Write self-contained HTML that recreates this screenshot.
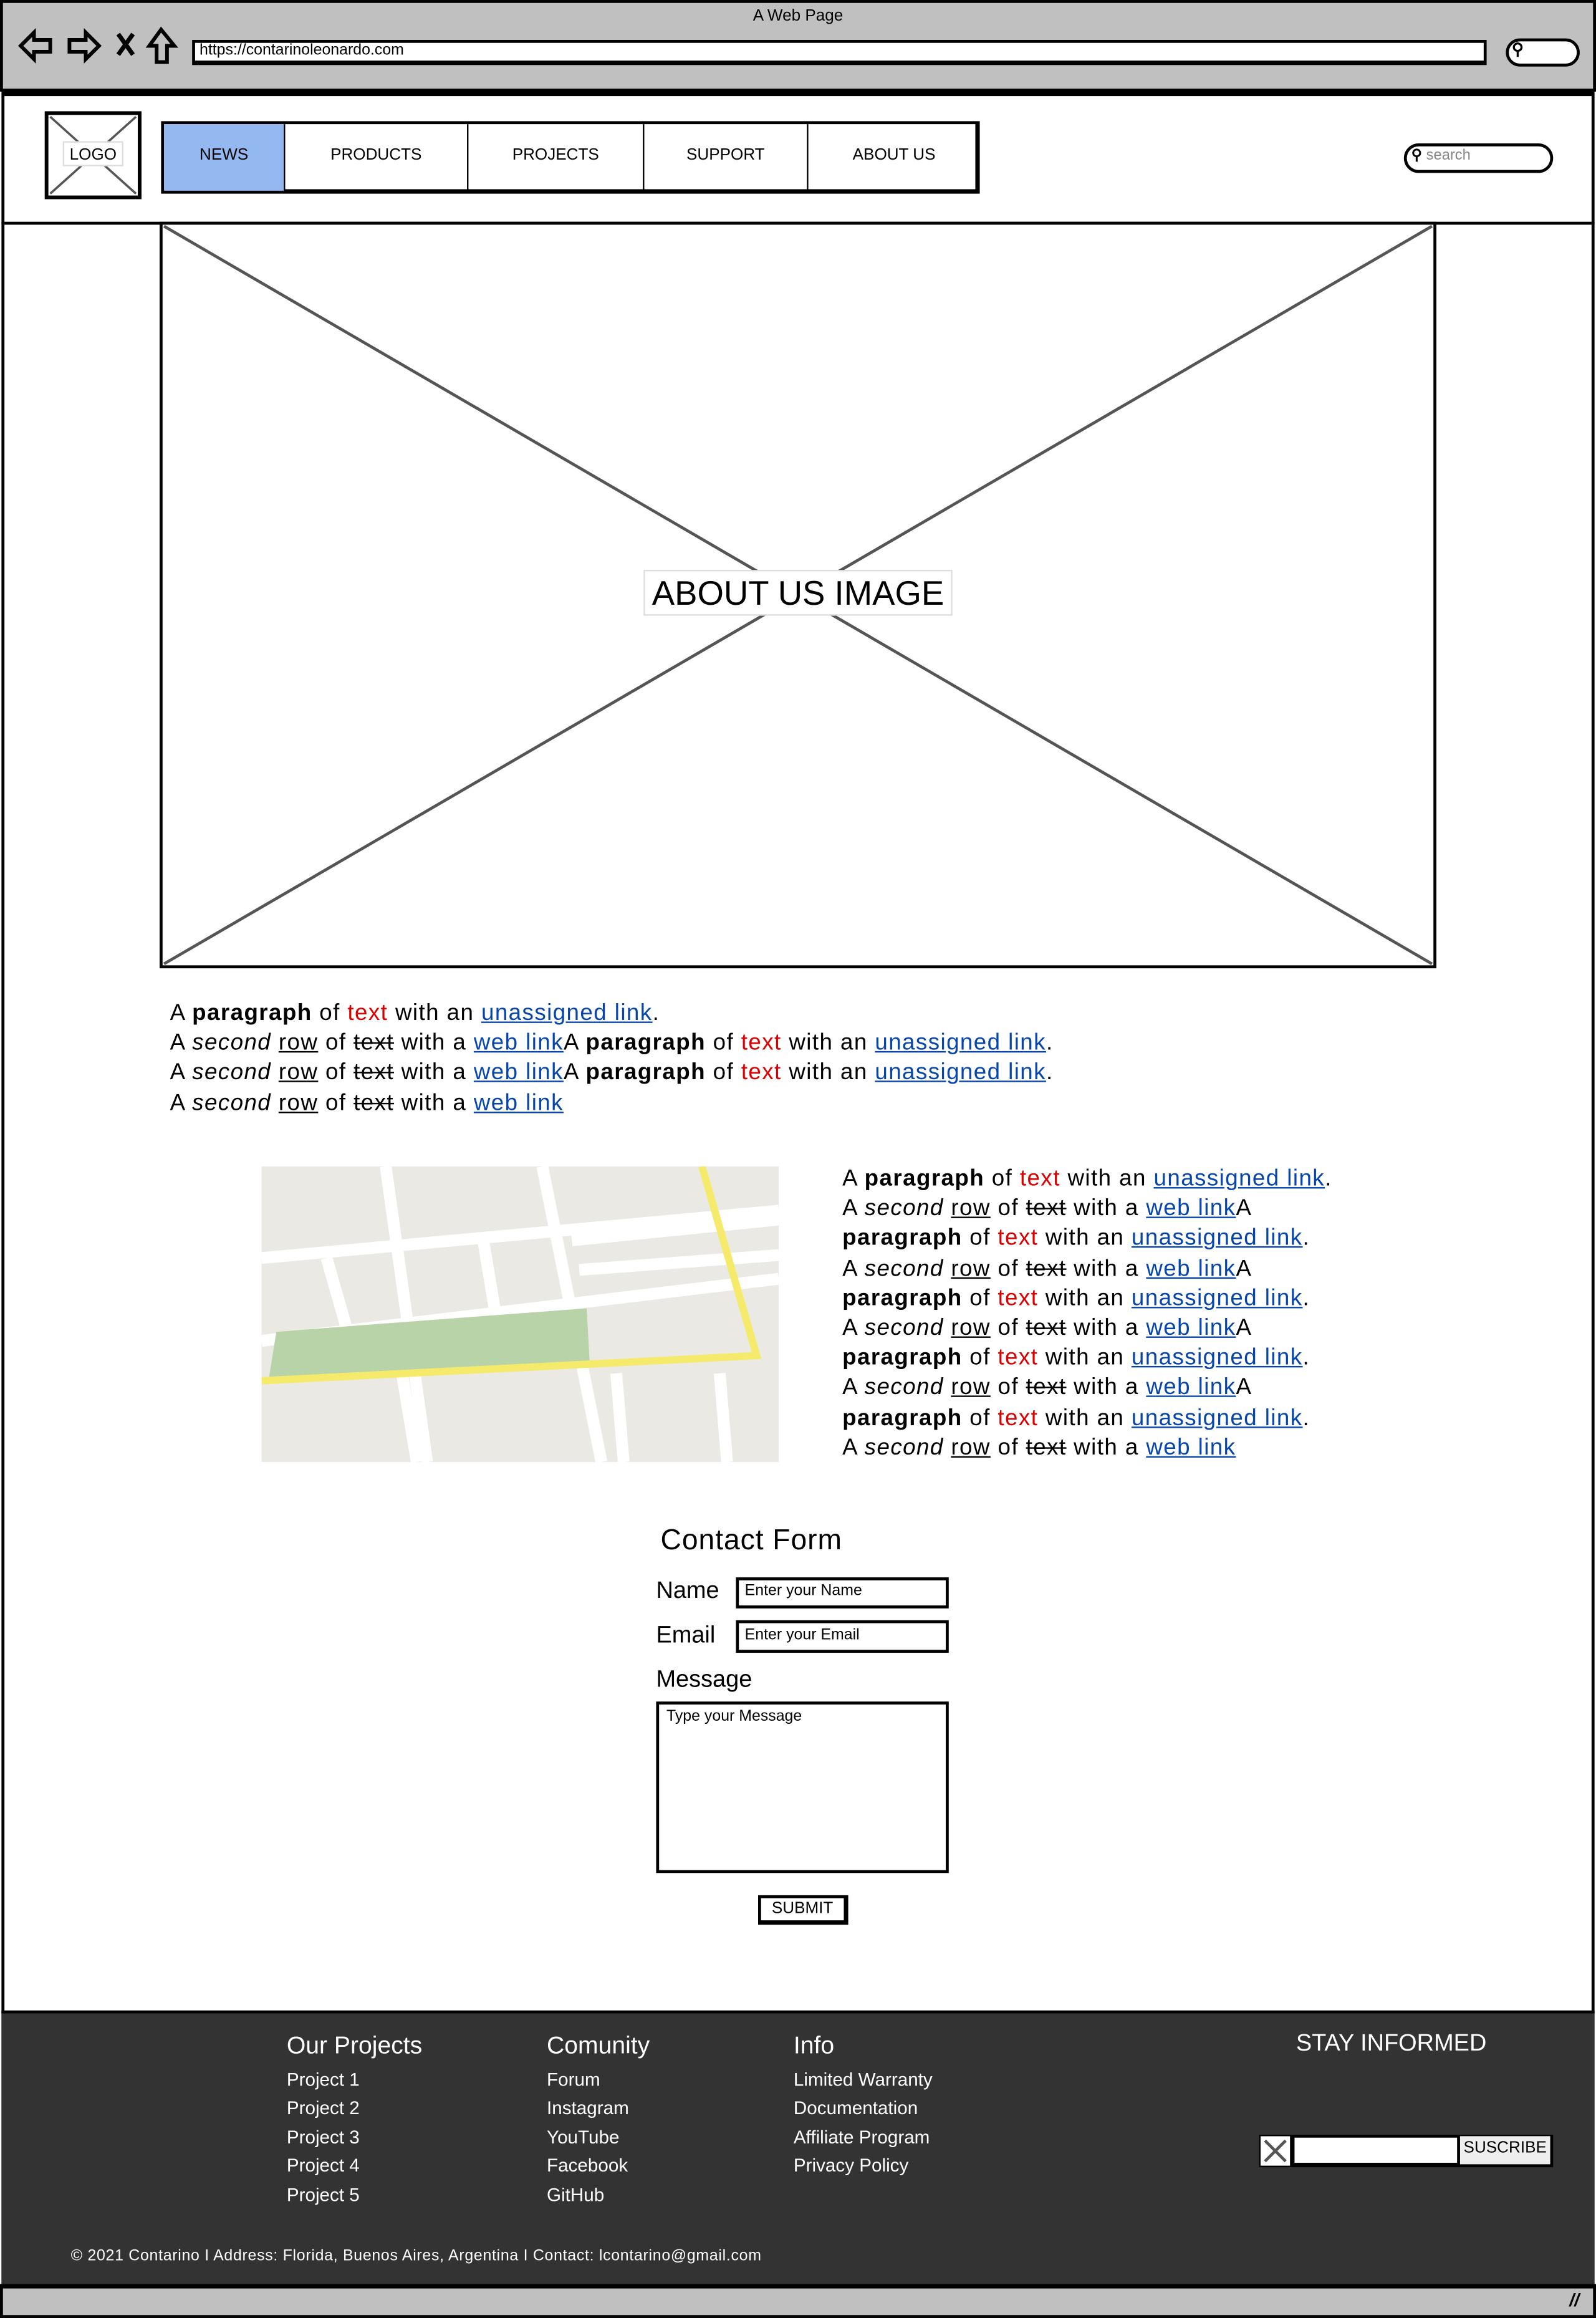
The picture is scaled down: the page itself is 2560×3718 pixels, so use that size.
<!DOCTYPE html>
<html><head><meta charset="utf-8"><style>
html,body{margin:0;padding:0;background:#fff;}
body{width:2560px;height:3718px;overflow:hidden;}
#w{position:absolute;left:0;top:0;width:1080px;height:1568px;transform:scale(2.37037,2.37117);transform-origin:0 0;font-family:"Liberation Sans",sans-serif;color:#000;}
.a{position:absolute;white-space:nowrap;}
.p{font-size:15.5px;line-height:20.2px;letter-spacing:0.6px;}
.r{color:#d00;}
.l{color:#0645ad;text-decoration:underline;}
.u{text-decoration:underline;}
.s{text-decoration:line-through;}
.box{position:absolute;box-sizing:border-box;}
.f{color:#fff;font-size:12.5px;}
</style></head><body><div id="w">
<div class="box" style="left:0;top:0;width:1080px;height:62px;background:#c0c0c0;border:2px solid #000;"></div>
<div class="a" style="left:0;width:1080px;text-align:center;top:5px;font-size:11px;">A Web Page</div>
<svg class="a" style="left:10px;top:18px" width="115" height="28" viewBox="0 0 115 28">
<path d="M4 13 L13 4 L13 9 L24 9 L24 17 L13 17 L13 22 Z" fill="none" stroke="#000" stroke-width="2.5"/>
<path d="M57 13 L48 4 L48 9 L37 9 L37 17 L48 17 L48 22 Z" fill="none" stroke="#000" stroke-width="2.5"/>
<path d="M70 5 L80 19 M80 5 L70 19" stroke="#000" stroke-width="3"/>
<path d="M99 2 L108 13 L103 13 L103 24 L96 24 L96 13 L91 13 Z" fill="none" stroke="#000" stroke-width="2.5"/>
</svg>
<div class="box" style="left:130px;top:27px;width:876px;height:17px;background:#fff;border:2px solid #000;border-bottom-width:3px;"></div>
<div class="a" style="left:135px;top:28px;font-size:10.5px;">https://contarinoleonardo.com</div>
<div class="box" style="left:1019px;top:26px;width:50px;height:19px;background:#fff;border:2.5px solid #000;border-radius:10px;"></div>
<div class="a" style="left:1023px;top:27px;font-size:11px;font-weight:bold;">⚲</div>
<div class="box" style="left:1px;top:62px;width:1078px;height:1484px;border:2px solid #000;border-top-width:3px;"></div>
<div class="box" style="left:1px;top:150px;width:1078px;height:2px;background:#000;"></div>
<svg class="a" style="left:30px;top:75px" width="66" height="60"><rect x="1.5" y="1.5" width="63" height="57" fill="#fff" stroke="#000" stroke-width="2.5"/><path d="M4 4 L62 56 M62 4 L4 56" stroke="#555" stroke-width="1.5"/><rect x="13" y="21" width="40" height="16" fill="#fff" stroke="#ddd"/><text x="33" y="33" text-anchor="middle" font-family="Liberation Sans" font-size="11">LOGO</text></svg>
<div class="box" style="left:109px;top:82px;width:554px;height:49px;border:2px solid #000;border-bottom-width:3px;border-right-width:3px;background:#fff;"></div>
<div class="box" style="left:111px;top:84px;width:81px;height:45px;background:#94b9f0;"></div>
<div class="box" style="left:192px;top:84px;width:1px;height:45px;background:#000;"></div>
<div class="box" style="left:316px;top:84px;width:1px;height:45px;background:#000;"></div>
<div class="box" style="left:435px;top:84px;width:1px;height:45px;background:#000;"></div>
<div class="box" style="left:546px;top:84px;width:1px;height:45px;background:#000;"></div>
<div class="a" style="left:111px;width:81px;text-align:center;top:99px;font-size:11px;">NEWS</div>
<div class="a" style="left:193px;width:123px;text-align:center;top:99px;font-size:11px;">PRODUCTS</div>
<div class="a" style="left:317px;width:118px;text-align:center;top:99px;font-size:11px;">PROJECTS</div>
<div class="a" style="left:436px;width:110px;text-align:center;top:99px;font-size:11px;">SUPPORT</div>
<div class="a" style="left:547px;width:116px;text-align:center;top:99px;font-size:11px;">ABOUT US</div>
<div class="box" style="left:950px;top:97px;width:101px;height:20px;border:2px solid #000;border-radius:10px;"></div>
<div class="a" style="left:955px;top:100px;font-size:10px;"><b>⚲</b> <span style="color:#888">search</span></div>
<svg class="a" style="left:108px;top:150px" width="864" height="506"><rect x="1" y="1" width="862" height="503" fill="#fff" stroke="#000" stroke-width="2"/><path d="M3 3 L861 502 M861 3 L3 502" stroke="#555" stroke-width="2"/><rect x="328" y="236" width="208" height="30" fill="#fff" stroke="#ddd"/><text x="432" y="259" text-anchor="middle" font-family="Liberation Sans" font-size="23">ABOUT US IMAGE</text></svg>
<div class="a p" style="left:115px;top:676px;">A <b>paragraph</b> of <span class="r">text</span> with an <span class="l">unassigned link</span>.<br>A <i>second</i> <span class="u">row</span> of <span class="s">text</span> with a <span class="l">web link</span>A <b>paragraph</b> of <span class="r">text</span> with an <span class="l">unassigned link</span>.<br>A <i>second</i> <span class="u">row</span> of <span class="s">text</span> with a <span class="l">web link</span>A <b>paragraph</b> of <span class="r">text</span> with an <span class="l">unassigned link</span>.<br>A <i>second</i> <span class="u">row</span> of <span class="s">text</span> with a <span class="l">web link</span></div>
<svg class="a" style="left:177px;top:789px" width="350" height="200" viewBox="0 0 350 200">
<rect width="350" height="200" fill="#ebe9e3"/>
<path d="M0 62 L350 30 M0 118 L350 76 M210 50 L350 36 M215 70 L350 60" stroke="#fff" stroke-width="8" fill="none"/>
<path d="M84 0 L112 200 M190 0 L230 200 M44 62 L60 118 M150 50 L160 110 M310 140 L315 200 M240 140 L245 200 M95 140 L105 200" stroke="#fff" stroke-width="8" fill="none"/>
<path d="M10 112 L60 108 L220 96 L222 132 L5 143 Z" fill="#b8d3a8"/>
<path d="M0 145 L335 128 L298 0" stroke="#f6ea6c" stroke-width="5" fill="none"/>
</svg>
<div class="a p" style="left:570px;top:788px;">A <b>paragraph</b> of <span class="r">text</span> with an <span class="l">unassigned link</span>.<br>A <i>second</i> <span class="u">row</span> of <span class="s">text</span> with a <span class="l">web link</span>A<br><b>paragraph</b> of <span class="r">text</span> with an <span class="l">unassigned link</span>.<br>A <i>second</i> <span class="u">row</span> of <span class="s">text</span> with a <span class="l">web link</span>A<br><b>paragraph</b> of <span class="r">text</span> with an <span class="l">unassigned link</span>.<br>A <i>second</i> <span class="u">row</span> of <span class="s">text</span> with a <span class="l">web link</span>A<br><b>paragraph</b> of <span class="r">text</span> with an <span class="l">unassigned link</span>.<br>A <i>second</i> <span class="u">row</span> of <span class="s">text</span> with a <span class="l">web link</span>A<br><b>paragraph</b> of <span class="r">text</span> with an <span class="l">unassigned link</span>.<br>A <i>second</i> <span class="u">row</span> of <span class="s">text</span> with a <span class="l">web link</span></div>
<div class="a" style="left:447px;top:1031px;font-size:19.5px;letter-spacing:0.4px;">Contact Form</div>
<div class="a" style="left:444px;top:1068px;font-size:16px;">Name</div>
<div class="a" style="left:444px;top:1098px;font-size:16px;">Email</div>
<div class="a" style="left:444px;top:1128px;font-size:16px;">Message</div>
<div class="box" style="left:498px;top:1067px;width:144px;height:21px;border:2px solid #000;border-bottom-width:2.5px;"></div>
<div class="a" style="left:504px;top:1070px;font-size:10.5px;">Enter your Name</div>
<div class="box" style="left:498px;top:1096px;width:144px;height:22px;border:2px solid #000;border-bottom-width:2.5px;"></div>
<div class="a" style="left:504px;top:1100px;font-size:10.5px;">Enter your Email</div>
<div class="box" style="left:444px;top:1151px;width:198px;height:116px;border:2px solid #000;"></div>
<div class="a" style="left:451px;top:1155px;font-size:10.5px;">Type your Message</div>
<div class="box" style="left:513px;top:1282px;width:61px;height:20px;border:2px solid #000;border-right-width:3px;border-bottom-width:3px;"></div>
<div class="a" style="left:513px;width:60px;text-align:center;top:1285px;font-size:11px;">SUBMIT</div>
<div class="box" style="left:1px;top:1360px;width:1078px;height:186px;background:#333;border-top:2px solid #000;"></div>
<div class="a f" style="left:194px;top:1375px;font-size:16.5px;">Our Projects</div>
<div class="a f" style="left:370px;top:1375px;font-size:16.5px;">Comunity</div>
<div class="a f" style="left:537px;top:1375px;font-size:16.5px;">Info</div>
<div class="a f" style="left:194px;top:1398px;line-height:19.4px;">Project 1<br>Project 2<br>Project 3<br>Project 4<br>Project 5</div>
<div class="a f" style="left:370px;top:1398px;line-height:19.4px;">Forum<br>Instagram<br>YouTube<br>Facebook<br>GitHub</div>
<div class="a f" style="left:537px;top:1398px;line-height:19.4px;">Limited Warranty<br>Documentation<br>Affiliate Program<br>Privacy Policy</div>
<div class="a f" style="left:877px;top:1374px;font-size:16px;">STAY INFORMED</div>
<div class="box" style="left:852px;top:1444px;width:199px;height:22px;background:#000;"></div>
<svg class="a" style="left:853px;top:1445px" width="20" height="20"><rect width="20" height="20" fill="#fff"/><path d="M3 3 L17 17 M17 3 L3 17" stroke="#555" stroke-width="2"/></svg>
<div class="box" style="left:876px;top:1446px;width:110px;height:17px;background:#fff;"></div>
<div class="box" style="left:988px;top:1445px;width:61px;height:19px;background:#eee;"></div>
<div class="a" style="left:988px;width:61px;text-align:center;top:1447px;font-size:11px;">SUSCRIBE</div>
<div class="a f" style="left:48px;top:1520px;font-size:10.5px;letter-spacing:0.3px;">© 2021 Contarino I Address: Florida, Buenos Aires, Argentina I Contact: lcontarino@gmail.com</div>
<div class="box" style="left:0;top:1545px;width:1080px;height:23px;background:#c0c0c0;border:2px solid #000;border-top-width:3px;"></div>
<div class="a" style="left:1062px;top:1549px;font-size:12px;font-style:italic;font-weight:bold;">//</div>
</div></body></html>
